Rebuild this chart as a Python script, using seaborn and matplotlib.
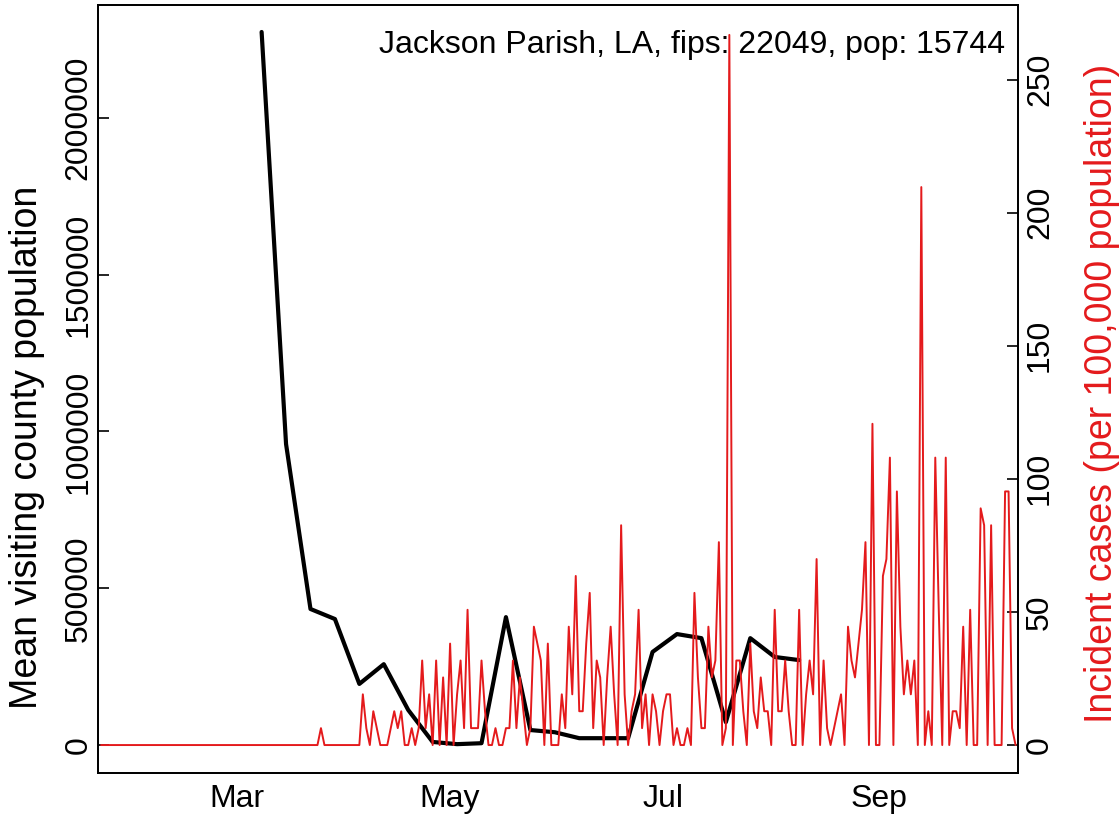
import numpy as np
import pandas as pd
import seaborn as sns
import matplotlib.pyplot as plt
import matplotlib.dates as mdates

county = "Jackson Parish, LA, fips: 22049, pop: 15744"
pop = 15744

# daily new cases from 2020-01-22 (1 case = 6.35 per 100k)
cases = [
    0, 0, 0, 0, 0, 0, 0, 0, 0, 0, 0, 0, 0, 0, 0, 0, 0, 0, 0, 0,
    0, 0, 0, 0, 0, 0, 0, 0, 0, 0, 0, 0, 0, 0, 0, 0, 0, 0, 0, 0,
    0, 0, 0, 0, 0, 0, 0, 0, 0, 0, 0, 0, 0, 0, 0, 0, 0, 0, 0, 0,
    0, 0, 0, 1, 0, 0, 0, 0, 0, 0, 0, 0, 0, 0, 0, 3, 1, 0, 2, 1,
    0, 0, 0, 1, 2, 1, 2, 0, 0, 1, 0, 1,
    5, 1, 3, 0, 5, 0, 4, 0, 6, 0, 3, 5, 1, 8, 1, 1, 1, 5, 2, 0,
    0, 1, 0, 0, 1, 1, 5, 1, 4, 2, 0, 1, 7, 6, 5,
    0, 6, 0, 0, 0, 3, 1, 7, 3, 10, 2, 2, 6, 9, 1, 5, 4, 0, 4, 7,
    3, 0, 13, 3, 0, 2, 3, 8, 1, 3, 0, 3, 2, 0,
    2, 3, 3, 0, 1, 0, 0, 1, 0, 9, 4, 1, 1, 7, 4, 5, 12, 0, 1, 42,
    0, 5, 5, 2, 0, 6, 2, 1, 4, 2, 2, 0, 8, 2,
    2, 5, 2, 0, 0, 8, 0, 3, 5, 3, 11, 0, 5, 1, 0, 1, 2, 3, 0, 7,
    5, 4, 6, 8, 12, 0, 19, 0, 0, 10, 11, 17, 0, 15,
    7, 3, 5, 3, 5, 0, 33, 0, 2, 0, 17, 8, 0, 17, 0, 2, 2, 1, 7, 0,
    8, 0, 0, 14, 13, 0, 13, 0, 0, 0, 15, 15, 1, 0,
]

# weekly mean visiting county population, from 2020-03-08
visitors = [2274000, 960000, 434000, 402000, 195000, 258000, 112000, 10000,
            3000, 6000, 408000, 48000, 41000, 22000, 22000, 22000, 297000,
            354000, 341000, 73000, 341000, 281000, 271000]

left_ticks = [0, 500000, 1000000, 1500000, 2000000]
right_ticks = [0, 50, 100, 150, 200, 250]

red = "#E41A1C"

cases_df = pd.DataFrame({
    "date": pd.date_range("2020-01-22", periods=len(cases), freq="D"),
    "incid": np.array(cases) / pop * 1e5,
})
visit_df = pd.DataFrame({
    "date": pd.date_range("2020-03-08", periods=len(visitors), freq="7D"),
    "visitors": visitors,
})

sns.set_style("white")
plt.rcParams["font.family"] = ["Liberation Sans", "DejaVu Sans"]
plt.rcParams["text.color"] = "black"
plt.rcParams["axes.labelcolor"] = "black"

fig = plt.figure(figsize=(11.19, 8.22), dpi=100)
ax = fig.add_axes([98 / 1119, 49 / 822, 920 / 1119, 768 / 822])

sns.lineplot(data=visit_df, x="date", y="visitors", color="black", lw=3, ax=ax)
ax2 = ax.twinx()
sns.lineplot(data=cases_df, x="date", y="incid", color=red, lw=1.4, ax=ax2)

start = pd.Timestamp("2020-01-22")
ax.set_xlim(start - pd.Timedelta(hours=21), start + pd.Timedelta(days=262.7))
ax.set_ylim(-89000, 2360000)
ax2.set_ylim(-10.5, 278)

ax.xaxis.set_major_locator(mdates.MonthLocator(bymonth=[3, 5, 7, 9]))
ax.xaxis.set_major_formatter(mdates.DateFormatter("%b"))
ax.set_yticks(left_ticks)
ax.set_yticklabels([str(t) for t in left_ticks])
ax2.set_yticks(right_ticks)
ax2.set_yticklabels([str(t) for t in right_ticks])

fs = 23
ax.tick_params(axis="both", direction="in", length=8, width=1.2, labelsize=fs,
               colors="black")
ax.tick_params(axis="x", pad=8)
ax.tick_params(axis="y", labelrotation=90, pad=3)
ax2.tick_params(axis="y", direction="in", length=8, width=1.2, labelsize=fs,
                labelrotation=90, pad=5, colors="black")
for lbl in ax.get_yticklabels() + ax2.get_yticklabels():
    lbl.set_va("center")

ax.set_xlabel("")
ax.set_ylabel("Mean visiting county population", fontsize=27)
ax.yaxis.set_label_coords(-0.058, 0.424)
ax2.set_ylabel("Incident cases (per 100,000 population)", fontsize=27, color=red)
ax2.yaxis.set_label_coords(1.072, 0.494)

for a in (ax, ax2):
    for sp in a.spines.values():
        sp.set_color("black")
        sp.set_linewidth(1.3)
    if a.get_legend():
        a.get_legend().remove()

ax.text(0.986, 0.948, county, transform=ax.transAxes, ha="right", va="center",
        fontsize=fs)

fig.savefig("out.png", dpi=100)
